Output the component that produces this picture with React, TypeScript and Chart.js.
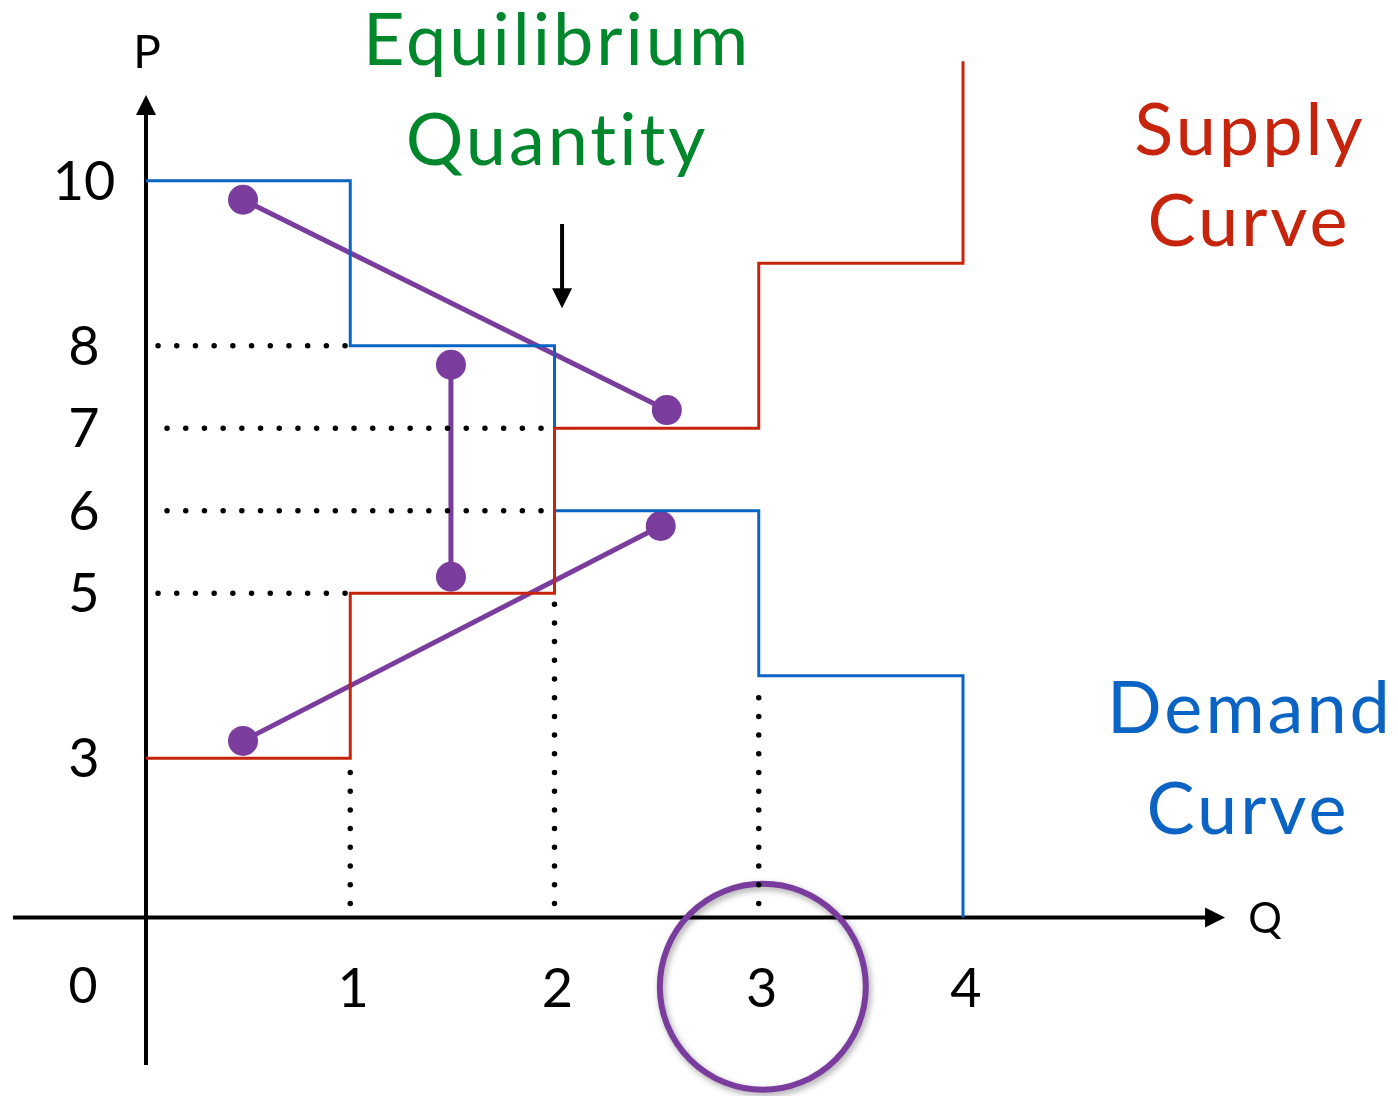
import React, { useEffect, useRef } from "react";
import { Chart, registerables } from "chart.js";

Chart.register(...registerables);

// ---- data ----
const SUPPLY_Q = [0, 1, 2, 3, 4];
const SUPPLY_P = [3, 5, 7, 9, 11.45];
const DEMAND_Q = [0, 1, 2, 3, 4];
const DEMAND_P = [10, 8, 6, 4, 1.07];
const AXIS_P = 1.07;
const Y_TICKS = [10, 8, 7, 6, 5, 3];
const X_TICKS = [1, 2, 3, 4];
const H_GUIDE_P = [8, 7, 6, 5];
const H_GUIDE_Q_START = [0.059, 0.103, 0.103, 0.059];
const H_GUIDE_Q_END = [0.975, 1.935, 1.935, 0.975];
const V_GUIDE_Q = [1, 2, 3];
const V_GUIDE_P_BOTTOM = [1.24, 1.24, 1.24];
const V_GUIDE_P_TOP = [2.83, 4.87, 3.96];
const MOVE_Q_FROM = [0.475, 1.493, 0.475];
const MOVE_P_FROM = [9.77, 7.77, 3.21];
const MOVE_Q_TO = [2.55, 1.493, 2.52];
const MOVE_P_TO = [7.22, 5.2, 5.815];
const CIRCLE_Q = [3.02];
const CIRCLE_P = [0.23];
const ARROW_Q = 2.037;
const ARROW_P_FROM = 9.476;
const ARROW_P_TO = 8.455;

// ---- styles ----
const BLUE = "#0b64c3";
const RED = "#c6240c";
const GREEN = "#00862b";
const PURPLE = "#7a3d9e";
const FONT = "Lato, 'Open Sans', sans-serif";

const W = 1398;
const H = 1096;
const PX_Q = 204.25;
const PX_P = 82.49;
const X_MIN = -146 / PX_Q;
const X_MAX = X_MIN + W / PX_Q;
const Y_MAX = 6.5 + 469.5 / PX_P;
const Y_MIN = Y_MAX - H / PX_P;

const overlay = {
  id: "overlay",
  beforeDatasetsDraw(chart: any) {
    const { ctx, scales } = chart;
    const x = scales.x;
    const y = scales.y;
    const x0 = x.getPixelForValue(0);
    const ya = y.getPixelForValue(AXIS_P);
    const yTop = y.getPixelForValue(11.04);
    const yBot = y.getPixelForValue(-0.72);
    const xLeft = x.getPixelForValue(-0.651);
    const xRight = x.getPixelForValue(5.283);
    ctx.save();
    ctx.strokeStyle = "#000";
    ctx.fillStyle = "#000";
    ctx.lineWidth = 4;
    ctx.beginPath();
    ctx.moveTo(x0, yBot);
    ctx.lineTo(x0, yTop + 16);
    ctx.moveTo(xLeft, ya);
    ctx.lineTo(xRight - 16, ya);
    ctx.stroke();
    ctx.beginPath();
    ctx.moveTo(x0, yTop);
    ctx.lineTo(x0 - 10, yTop + 20);
    ctx.lineTo(x0 + 10, yTop + 20);
    ctx.closePath();
    ctx.fill();
    ctx.beginPath();
    ctx.moveTo(xRight, ya);
    ctx.lineTo(xRight - 20, ya - 10);
    ctx.lineTo(xRight - 20, ya + 10);
    ctx.closePath();
    ctx.fill();
    ctx.restore();
  },
  beforeDatasetDraw(chart: any, args: any) {
    if (args.index === chart.data.datasets.length - 1) {
      const ctx = chart.ctx;
      ctx.save();
      ctx.shadowColor = "rgba(0,0,0,0.35)";
      ctx.shadowBlur = 6;
      ctx.shadowOffsetX = 2;
      ctx.shadowOffsetY = 3;
    }
  },
  afterDatasetDraw(chart: any, args: any) {
    if (args.index === chart.data.datasets.length - 1) {
      chart.ctx.restore();
    }
  },
  afterDatasetsDraw(chart: any) {
    const { ctx, scales } = chart;
    const x = scales.x;
    const y = scales.y;
    ctx.save();
    ctx.textAlign = "center";
    ctx.textBaseline = "alphabetic";
    ctx.fillStyle = "#000";
    ctx.font = `400 54px ${FONT}`;
    Y_TICKS.forEach((p) => {
      ctx.fillText(String(p), 84, y.getPixelForValue(p) + 19);
    });
    X_TICKS.forEach((q) => {
      ctx.fillText(String(q), x.getPixelForValue(q) + 3, 1007);
    });
    ctx.font = `400 50px ${FONT}`;
    ctx.fillText("0", 83, 1003);
    ctx.font = `400 46px ${FONT}`;
    ctx.fillText("P", 147, 68);
    ctx.font = `400 42px ${FONT}`;
    ctx.fillText("Q", 1265, 933);
    ctx.font = `400 72px ${FONT}`;
    (ctx as any).letterSpacing = "3px";
    ctx.fillStyle = GREEN;
    ctx.fillText("Equilibrium", 557, 65);
    ctx.fillText("Quantity", 557, 165);
    ctx.fillStyle = RED;
    ctx.fillText("Supply", 1250, 155);
    ctx.fillText("Curve", 1249, 246);
    ctx.fillStyle = BLUE;
    ctx.fillText("Demand", 1250, 733);
    ctx.fillText("Curve", 1248, 834);
    (ctx as any).letterSpacing = "0px";
    const ax = x.getPixelForValue(ARROW_Q);
    const a1 = y.getPixelForValue(ARROW_P_FROM);
    const a2 = y.getPixelForValue(ARROW_P_TO);
    ctx.strokeStyle = "#000";
    ctx.fillStyle = "#000";
    ctx.lineWidth = 4;
    ctx.beginPath();
    ctx.moveTo(ax, a1);
    ctx.lineTo(ax, a2 - 16);
    ctx.stroke();
    ctx.beginPath();
    ctx.moveTo(ax, a2);
    ctx.lineTo(ax - 10, a2 - 20);
    ctx.lineTo(ax + 10, a2 - 20);
    ctx.closePath();
    ctx.fill();
    ctx.restore();
  },
};

export default function App() {
  const ref = useRef<HTMLCanvasElement | null>(null);
  useEffect(() => {
    if (!ref.current) return;
    const datasets: any[] = [];
    const dotted = {
      showLine: true,
      borderColor: "#000",
      borderWidth: 5.5,
      borderDash: [0, 18.7],
      borderCapStyle: "round",
      pointRadius: 0,
      clip: false,
    };
    H_GUIDE_P.forEach((p, i) => {
      datasets.push({
        ...dotted,
        data: [
          { x: H_GUIDE_Q_START[i], y: p },
          { x: H_GUIDE_Q_END[i], y: p },
        ],
      });
    });
    V_GUIDE_Q.forEach((q, i) => {
      datasets.push({
        ...dotted,
        data: [
          { x: q, y: V_GUIDE_P_BOTTOM[i] },
          { x: q, y: V_GUIDE_P_TOP[i] },
        ],
      });
    });
    datasets.push({
      label: "Supply",
      data: SUPPLY_Q.map((q, i) => ({ x: q, y: SUPPLY_P[i] })),
      showLine: true,
      stepped: "before",
      borderColor: RED,
      borderWidth: 3,
      pointRadius: 0,
      clip: false,
    });
    datasets.push({
      label: "Demand",
      data: DEMAND_Q.map((q, i) => ({ x: q, y: DEMAND_P[i] })),
      showLine: true,
      stepped: "before",
      borderColor: BLUE,
      borderWidth: 3,
      pointRadius: 0,
      clip: false,
    });
    MOVE_Q_FROM.forEach((q, i) => {
      datasets.push({
        data: [
          { x: q, y: MOVE_P_FROM[i] },
          { x: MOVE_Q_TO[i], y: MOVE_P_TO[i] },
        ],
        showLine: true,
        borderColor: PURPLE,
        borderWidth: 5,
        pointRadius: 15,
        pointBackgroundColor: PURPLE,
        pointBorderWidth: 0,
        clip: false,
      });
    });
    datasets.push({
      data: CIRCLE_Q.map((q, i) => ({ x: q, y: CIRCLE_P[i] })),
      showLine: false,
      pointRadius: 103,
      pointBackgroundColor: "rgba(0,0,0,0)",
      pointBorderColor: PURPLE,
      pointBorderWidth: 6,
      clip: false,
    });
    const chart = new Chart(ref.current, {
      type: "scatter",
      data: { datasets },
      options: {
        responsive: false,
        animation: false,
        devicePixelRatio: 1,
        layout: { padding: 0, autoPadding: false },
        plugins: { legend: { display: false }, tooltip: { enabled: false } },
        scales: {
          x: { type: "linear", min: X_MIN, max: X_MAX, display: false },
          y: { type: "linear", min: Y_MIN, max: Y_MAX, display: false },
        },
      },
      plugins: [overlay],
    } as any);
    return () => chart.destroy();
  }, []);
  return (
    <div style={{ position: "absolute", left: 0, top: 0, width: W, height: H, background: "#fff" }}>
      <canvas ref={ref} width={W} height={H} style={{ display: "block", width: W, height: H }} />
    </div>
  );
}
